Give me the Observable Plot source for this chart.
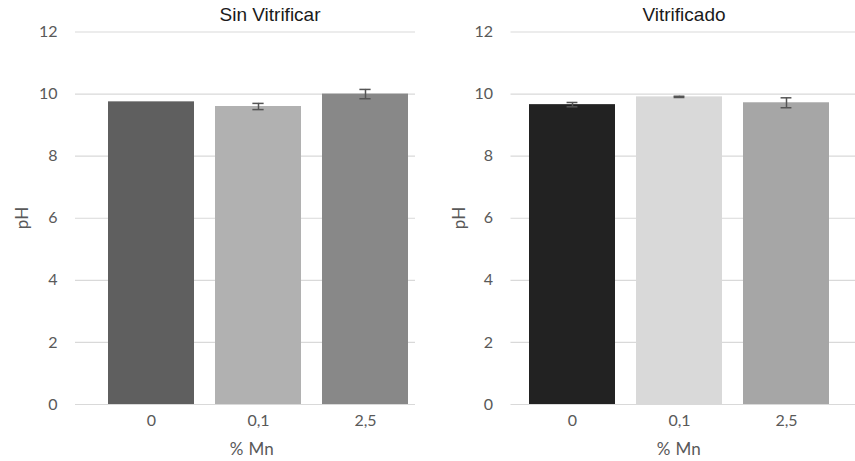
<!DOCTYPE html>
<html>
<head>
<meta charset="utf-8">
<script src="https://cdn.jsdelivr.net/npm/d3@7"></script>
<script src="https://cdn.jsdelivr.net/npm/@observablehq/plot@0.6"></script>
<style>
  html, body { margin: 0; padding: 0; background: #fff; }
  #chart { position: relative; width: 855px; height: 461px; overflow: hidden; font-family: Lato, "Open Sans", sans-serif; }
  .panel { position: absolute; top: 0; }
  .title { position: absolute; font-family: "Liberation Sans", Arial, sans-serif; font-size: 19px; color: #1a1a1a; white-space: nowrap; transform: translateX(-50%); top: 4px; }
  .xlabel { position: absolute; font-family: Lato, sans-serif; font-size: 17px; letter-spacing: 0.3px; color: #595959; white-space: nowrap; transform: translate(-50%, -50%); }
  .ylabel { position: absolute; font-family: Lato, sans-serif; font-size: 17px; color: #595959; white-space: nowrap; transform: translate(-50%, -50%) rotate(-90deg); }
</style>
</head>
<body>
<div id="chart"></div>
<script>
// % Mn categories and pH measurements (mean ± standard deviation)
const categories = ["0", "0,1", "2,5"];
const sinVitrificar = [9.75, 9.60, 10.00];
const sinVitrificarErr = [0, 0.10, 0.15];
const vitrificado = [9.66, 9.91, 9.72];
const vitrificadoErr = [0.07, 0.02, 0.16];
const yTicks = [0, 2, 4, 6, 8, 10, 12];

const sinColors = ["#5f5f5f", "#b1b1b1", "#888888"];
const vitColors = ["#222222", "#d9d9d9", "#a6a6a6"];

const chart = document.getElementById("chart");

function panel({values, errs, colors, left, width, marginLeft, marginRight, xRange, title, titleX, yLabelX, xLabelX}) {
  const data = categories.map((c, i) => ({mn: c, ph: values[i], err: errs[i], color: colors[i]}));
  const bandwidth = (xRange[1] - xRange[0]) / 3 * 0.8;
  const capInset = (bandwidth - 11) / 2;
  const withErr = data.filter(d => d.err > 0);
  const svg = Plot.plot({
    width,
    height: 461,
    marginLeft,
    marginRight,
    marginTop: 31.5,
    marginBottom: 57,
    style: {fontFamily: "Lato, 'Open Sans', sans-serif", fontSize: "16px", color: "#595959", background: "transparent"},
    x: {domain: categories, range: xRange, paddingInner: 0.2, paddingOuter: 0.1, label: null},
    y: {domain: [0, 12], label: null},
    marks: [
      Plot.ruleY(yTicks, {stroke: "#d9d9d9", strokeWidth: 1.2}),
      Plot.barY(data, {x: "mn", y: "ph", fill: d => d.color}),
      Plot.ruleX(withErr, {x: "mn", y1: d => d.ph - d.err, y2: d => d.ph + d.err, stroke: "#555", strokeWidth: 1.5}),
      Plot.tickY(withErr, {x: "mn", y: d => d.ph - d.err, stroke: "#555", strokeWidth: 1.5, insetLeft: capInset, insetRight: capInset}),
      Plot.tickY(withErr, {x: "mn", y: d => d.ph + d.err, stroke: "#555", strokeWidth: 1.5, insetLeft: capInset, insetRight: capInset}),
      Plot.axisY({ticks: yTicks, tickSize: 0, tickPadding: 18, fill: "#595959", label: null}),
      Plot.axisX({tickSize: 0, tickPadding: 10, fill: "#595959", label: null})
    ]
  });
  svg.classList.add("panel");
  svg.style.left = left + "px";
  chart.appendChild(svg);

  const t = document.createElement("div");
  t.className = "title";
  t.textContent = title;
  t.style.left = titleX + "px";
  chart.appendChild(t);

  const yl = document.createElement("div");
  yl.className = "ylabel";
  yl.textContent = "pH";
  yl.style.left = yLabelX + "px";
  yl.style.top = "218px";
  chart.appendChild(yl);

  const xl = document.createElement("div");
  xl.className = "xlabel";
  xl.textContent = "% Mn";
  xl.style.left = xLabelX + "px";
  xl.style.top = "448px";
  chart.appendChild(xl);
}

panel({
  values: sinVitrificar, errs: sinVitrificarErr, colors: sinColors,
  left: 0, width: 428, marginLeft: 75, marginRight: 13, xRange: [96.6, 418.2],
  title: "Sin Vitrificar", titleX: 270, yLabelX: 21, xLabelX: 252
});
panel({
  values: vitrificado, errs: vitrificadoErr, colors: vitColors,
  left: 428, width: 427, marginLeft: 82.5, marginRight: 0, xRange: [88.9, 412],
  title: "Vitrificado", titleX: 684, yLabelX: 458, xLabelX: 679
});
</script>
</body>
</html>
